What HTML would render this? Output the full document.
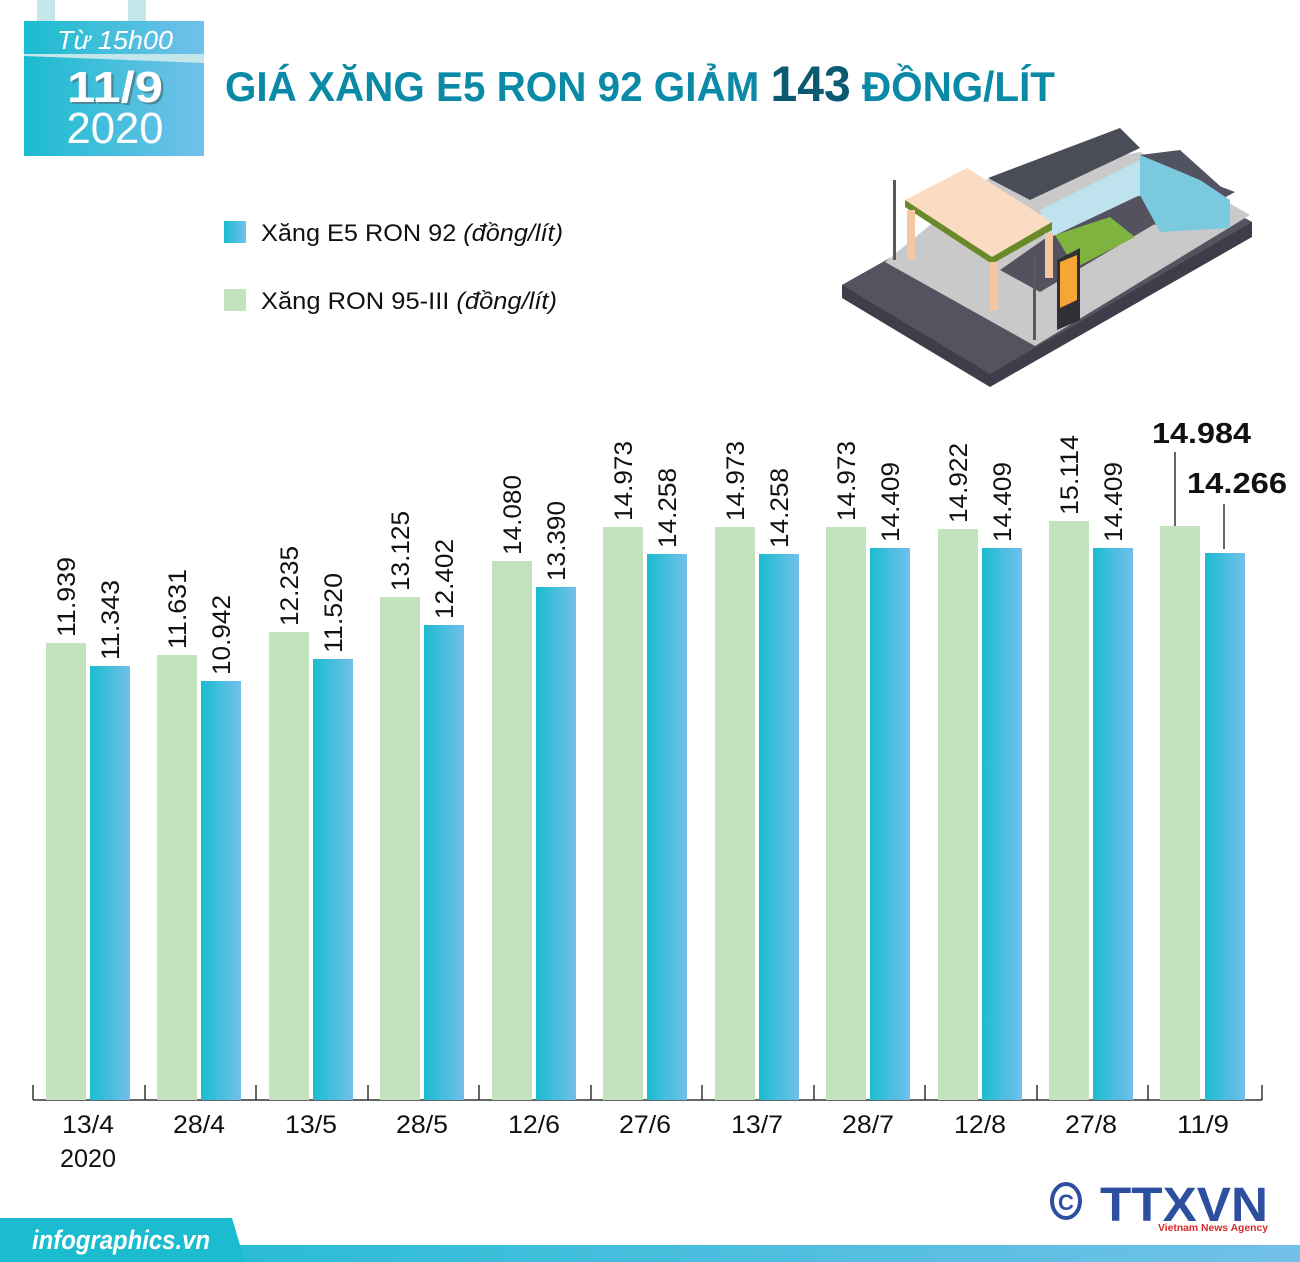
<!DOCTYPE html>
<html><head><meta charset="utf-8"><style>
html,body{margin:0;padding:0;background:#fff}
svg{display:block}
text{font-family:"Liberation Sans",sans-serif}
</style></head><body>
<svg width="1300" height="1262" viewBox="0 0 1300 1262" xmlns="http://www.w3.org/2000/svg">
<defs>
<linearGradient id="bl" x1="0" x2="1" y1="0" y2="0"><stop offset="0" stop-color="#1bbccf"/><stop offset="1" stop-color="#72c0ea"/></linearGradient>
<linearGradient id="ft" x1="0" x2="1"><stop offset="0" stop-color="#1bbccf"/><stop offset="1" stop-color="#72c0ea"/></linearGradient>
</defs>
<rect x="37" y="0" width="18" height="22" fill="#c3e6ea"/>
<rect x="128" y="0" width="18" height="22" fill="#c3e6ea"/>
<rect x="24" y="21" width="180" height="135" fill="url(#bl)"/>
<polygon points="24,54 204,54 204,63 24,56" fill="#c3e6ea"/>
<text x="115" y="49" font-size="26" font-style="italic" fill="#fff" text-anchor="middle" textLength="116" lengthAdjust="spacingAndGlyphs">Từ 15h00</text>
<text x="115" y="102" font-size="44" font-weight="bold" fill="#fff" text-anchor="middle" textLength="96" lengthAdjust="spacingAndGlyphs" style="text-shadow:2px 2px 0 #4a8a99">11/9</text>
<text x="115" y="143" font-size="44" fill="#fff" text-anchor="middle" textLength="97" lengthAdjust="spacingAndGlyphs">2020</text>
<text x="225" y="101" font-size="42" font-weight="bold" fill="#0a8aa6" textLength="830" lengthAdjust="spacingAndGlyphs">GIÁ XĂNG E5 RON 92 GIẢM <tspan font-size="50" fill="#0b5a72">143</tspan> ĐỒNG/LÍT</text>
<rect x="224" y="221" width="22" height="22" fill="url(#bl)"/>
<text x="261" y="241" font-size="24" fill="#111" textLength="302" lengthAdjust="spacingAndGlyphs">Xăng E5 RON 92 <tspan font-style="italic">(đồng/lít)</tspan></text>
<rect x="224" y="289" width="22" height="22" fill="#c3e2bd"/>
<text x="261" y="309" font-size="24" fill="#111" textLength="296" lengthAdjust="spacingAndGlyphs">Xăng RON 95-III <tspan font-style="italic">(đồng/lít)</tspan></text>
<polygon points="842,285 842,298 990,387 1252,237 1252,222 1100,140" fill="#3f3d4a"/>
<polygon points="842,285 990,374 1252,222 1100,140" fill="#55535f"/>
<polygon points="885,262 1035,346 1250,215 1140,152 985,180" fill="#c9c9c9"/>
<polygon points="1000,270 1040,292 1170,215 1150,195 1100,200" fill="#54525e"/>
<polygon points="1120,205 1165,230 1235,192 1190,175" fill="#54525e"/>
<polygon points="1055,235 1075,268 1135,237 1110,217" fill="#7fb33f"/>
<polygon points="1040,210 1140,160 1140,195 1045,240" fill="#bfe3ee"/>
<polygon points="988,178 1120,128 1140,148 1030,200" fill="#4a4d57"/>
<polygon points="1140,155 1200,180 1230,200 1230,228 1160,232 1140,195" fill="#7ac9df"/>
<polygon points="1140,155 1180,150 1230,195 1200,180" fill="#515361"/>
<polygon points="905,200 967,168 1052,222 992,257" fill="#fbdcc2"/>
<polygon points="905,200 992,257 1052,222 1052,230 992,264 905,207" fill="#6a8a2a"/>
<rect x="907" y="210" width="8" height="50" fill="#f4c7a2"/>
<rect x="990" y="262" width="8" height="48" fill="#f4c7a2"/>
<rect x="1045" y="233" width="8" height="45" fill="#f4c7a2"/>
<polygon points="1057,260 1080,248 1080,320 1057,330" fill="#2f2f35"/>
<polygon points="1060,262 1077,255 1077,300 1060,308" fill="#f6a634"/>
<rect x="893" y="180" width="3" height="80" fill="#555b63"/>
<rect x="1033" y="255" width="3" height="85" fill="#555b63"/>
<g stroke="#333" stroke-width="1.5">
<line x1="33" y1="1100" x2="1262" y2="1100"/>
<line x1="33" y1="1085" x2="33" y2="1100"/><line x1="145" y1="1085" x2="145" y2="1100"/><line x1="256" y1="1085" x2="256" y2="1100"/><line x1="368" y1="1085" x2="368" y2="1100"/><line x1="479" y1="1085" x2="479" y2="1100"/><line x1="591" y1="1085" x2="591" y2="1100"/><line x1="702" y1="1085" x2="702" y2="1100"/><line x1="814" y1="1085" x2="814" y2="1100"/><line x1="925" y1="1085" x2="925" y2="1100"/><line x1="1037" y1="1085" x2="1037" y2="1100"/><line x1="1148" y1="1085" x2="1148" y2="1100"/><line x1="1262" y1="1085" x2="1262" y2="1100"/>
</g>
<rect x="46" y="643" width="40" height="457" fill="#c3e2bd"/><rect x="90" y="666" width="40" height="434" fill="url(#bl)"/>
<rect x="157" y="655" width="40" height="445" fill="#c3e2bd"/><rect x="201" y="681" width="40" height="419" fill="url(#bl)"/>
<rect x="269" y="632" width="40" height="468" fill="#c3e2bd"/><rect x="313" y="659" width="40" height="441" fill="url(#bl)"/>
<rect x="380" y="597" width="40" height="503" fill="#c3e2bd"/><rect x="424" y="625" width="40" height="475" fill="url(#bl)"/>
<rect x="492" y="561" width="40" height="539" fill="#c3e2bd"/><rect x="536" y="587" width="40" height="513" fill="url(#bl)"/>
<rect x="603" y="527" width="40" height="573" fill="#c3e2bd"/><rect x="647" y="554" width="40" height="546" fill="url(#bl)"/>
<rect x="715" y="527" width="40" height="573" fill="#c3e2bd"/><rect x="759" y="554" width="40" height="546" fill="url(#bl)"/>
<rect x="826" y="527" width="40" height="573" fill="#c3e2bd"/><rect x="870" y="548" width="40" height="552" fill="url(#bl)"/>
<rect x="938" y="529" width="40" height="571" fill="#c3e2bd"/><rect x="982" y="548" width="40" height="552" fill="url(#bl)"/>
<rect x="1049" y="521" width="40" height="579" fill="#c3e2bd"/><rect x="1093" y="548" width="40" height="552" fill="url(#bl)"/>
<rect x="1160" y="526" width="40" height="574" fill="#c3e2bd"/><rect x="1205" y="553" width="40" height="547" fill="url(#bl)"/>
<g font-size="25" fill="#111">
<text transform="translate(75,637) rotate(-90)" textLength="80" lengthAdjust="spacingAndGlyphs">11.939</text>
<text transform="translate(119,660) rotate(-90)" textLength="80" lengthAdjust="spacingAndGlyphs">11.343</text>
<text transform="translate(186,649) rotate(-90)" textLength="80" lengthAdjust="spacingAndGlyphs">11.631</text>
<text transform="translate(230,675) rotate(-90)" textLength="80" lengthAdjust="spacingAndGlyphs">10.942</text>
<text transform="translate(298,626) rotate(-90)" textLength="80" lengthAdjust="spacingAndGlyphs">12.235</text>
<text transform="translate(342,653) rotate(-90)" textLength="80" lengthAdjust="spacingAndGlyphs">11.520</text>
<text transform="translate(409,591) rotate(-90)" textLength="80" lengthAdjust="spacingAndGlyphs">13.125</text>
<text transform="translate(453,619) rotate(-90)" textLength="80" lengthAdjust="spacingAndGlyphs">12.402</text>
<text transform="translate(521,555) rotate(-90)" textLength="80" lengthAdjust="spacingAndGlyphs">14.080</text>
<text transform="translate(565,581) rotate(-90)" textLength="80" lengthAdjust="spacingAndGlyphs">13.390</text>
<text transform="translate(632,521) rotate(-90)" textLength="80" lengthAdjust="spacingAndGlyphs">14.973</text>
<text transform="translate(676,548) rotate(-90)" textLength="80" lengthAdjust="spacingAndGlyphs">14.258</text>
<text transform="translate(744,521) rotate(-90)" textLength="80" lengthAdjust="spacingAndGlyphs">14.973</text>
<text transform="translate(788,548) rotate(-90)" textLength="80" lengthAdjust="spacingAndGlyphs">14.258</text>
<text transform="translate(855,521) rotate(-90)" textLength="80" lengthAdjust="spacingAndGlyphs">14.973</text>
<text transform="translate(899,542) rotate(-90)" textLength="80" lengthAdjust="spacingAndGlyphs">14.409</text>
<text transform="translate(967,523) rotate(-90)" textLength="80" lengthAdjust="spacingAndGlyphs">14.922</text>
<text transform="translate(1011,542) rotate(-90)" textLength="80" lengthAdjust="spacingAndGlyphs">14.409</text>
<text transform="translate(1078,515) rotate(-90)" textLength="80" lengthAdjust="spacingAndGlyphs">15.114</text>
<text transform="translate(1122,542) rotate(-90)" textLength="80" lengthAdjust="spacingAndGlyphs">14.409</text>
</g>
<line x1="1175" y1="452" x2="1175" y2="526" stroke="#333" stroke-width="1.5"/>
<line x1="1224" y1="504" x2="1224" y2="549" stroke="#333" stroke-width="1.5"/>
<text x="1152" y="443" font-size="29" font-weight="bold" fill="#111" textLength="99" lengthAdjust="spacingAndGlyphs">14.984</text>
<text x="1187" y="493" font-size="29" font-weight="bold" fill="#111" textLength="100" lengthAdjust="spacingAndGlyphs">14.266</text>
<g font-size="25" fill="#111" text-anchor="middle">
<text x="88" y="1133" textLength="52" lengthAdjust="spacingAndGlyphs">13/4</text>
<text x="88" y="1167" textLength="56" lengthAdjust="spacingAndGlyphs">2020</text>
<text x="199" y="1133" textLength="52" lengthAdjust="spacingAndGlyphs">28/4</text>
<text x="311" y="1133" textLength="52" lengthAdjust="spacingAndGlyphs">13/5</text>
<text x="422" y="1133" textLength="52" lengthAdjust="spacingAndGlyphs">28/5</text>
<text x="534" y="1133" textLength="52" lengthAdjust="spacingAndGlyphs">12/6</text>
<text x="645" y="1133" textLength="52" lengthAdjust="spacingAndGlyphs">27/6</text>
<text x="757" y="1133" textLength="52" lengthAdjust="spacingAndGlyphs">13/7</text>
<text x="868" y="1133" textLength="52" lengthAdjust="spacingAndGlyphs">28/7</text>
<text x="980" y="1133" textLength="52" lengthAdjust="spacingAndGlyphs">12/8</text>
<text x="1091" y="1133" textLength="52" lengthAdjust="spacingAndGlyphs">27/8</text>
<text x="1203" y="1133" textLength="52" lengthAdjust="spacingAndGlyphs">11/9</text>
</g>
<ellipse cx="1066" cy="1201" rx="14" ry="17" fill="none" stroke="#2e4fa0" stroke-width="4"/>
<text x="1066" y="1210" font-size="22" font-weight="bold" fill="#2e4fa0" text-anchor="middle">C</text>
<text x="1100" y="1221" font-size="48" font-weight="bold" fill="#2e4fa0" textLength="168" lengthAdjust="spacingAndGlyphs">TTXVN</text>
<text x="1158" y="1231" font-size="10" font-weight="bold" fill="#d42a2a" textLength="110" lengthAdjust="spacingAndGlyphs">Vietnam News Agency</text>
<rect x="0" y="1245" width="1300" height="17" fill="url(#ft)"/>
<polygon points="0,1218 232,1218 245,1262 0,1262" fill="#1bbccf"/>
<text x="32" y="1249" font-size="27" font-weight="bold" font-style="italic" fill="#fff" textLength="178" lengthAdjust="spacingAndGlyphs">infographics.vn</text>
</svg>
</body></html>
